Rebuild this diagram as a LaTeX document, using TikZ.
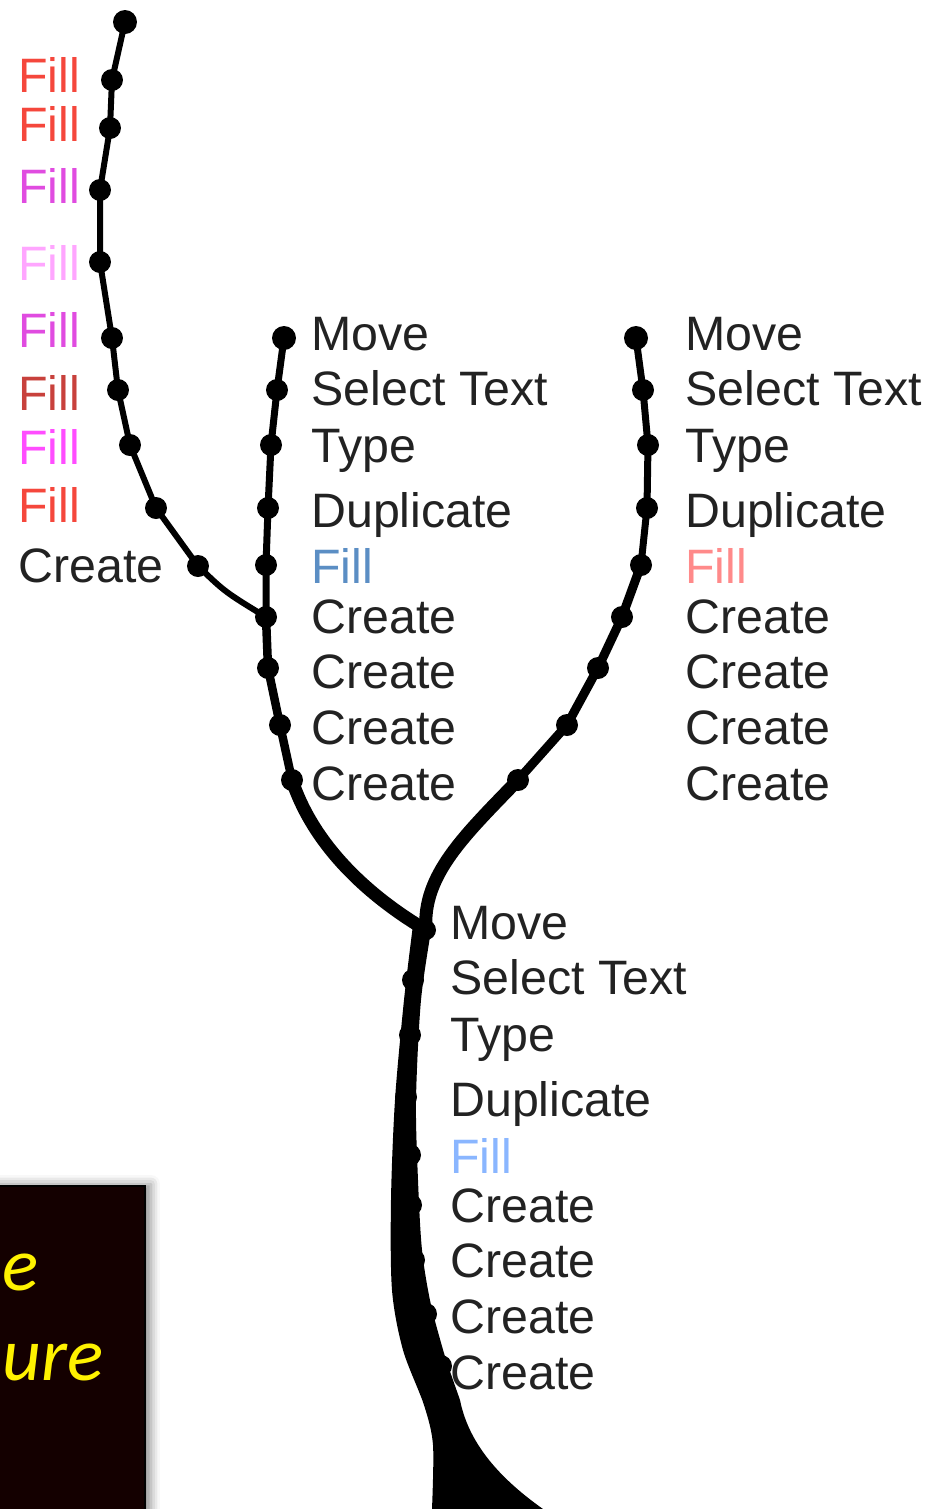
\documentclass[tikz,border=0pt]{standalone}
\usepackage{fontspec}
\setmainfont{Liberation Sans}
\newfontfamily\calloutfont{Carlito}
\usetikzlibrary{shadows.blur}

\definecolor{actgray}{HTML}{222222}
\definecolor{fillred}{HTML}{F5473C}
\definecolor{fillmagenta}{HTML}{E04CE0}
\definecolor{fillpink}{HTML}{FFA6FF}
\definecolor{filldark}{HTML}{C8413C}
\definecolor{fillhot}{HTML}{FF4DFF}
\definecolor{fillsteel}{HTML}{5B8EC4}
\definecolor{fillsalmon}{HTML}{FF8A8A}
\definecolor{fillsky}{HTML}{8AB6FF}
\definecolor{calloutbg}{HTML}{140000}

\tikzset{
	act/.style={anchor=base west, inner sep=0pt, text=actgray, font=\fontsize{27.5}{32}\selectfont},
	twig/.style={line width=#1, line cap=round, line join=round},
	twig/.default=0.12cm,
}

\begin{document}
\begin{tikzpicture}[x=0.02cm, y=-0.02cm]
		\useasboundingbox (0,0) rectangle (930,1509);
		
		% points along the branches, top to bottom
		\foreach \px/\py [count=\i from 0] in {125/22, 112/80, 110/128, 100/190, 100/262, 112/338, 118/390, 130/445, 156/508, 198/566}
			\coordinate (l\i) at (\px,\py);
		\foreach \px/\py [count=\i] in {284/338, 277/390, 271/445, 268/508, 266/565, 266/617, 268/668, 280/725, 292/780}
			\coordinate (m\i) at (\px,\py);
		\foreach \px/\py [count=\i] in {636/338, 643/390, 648/445, 647/508, 641/565, 622/617, 598/668, 567/725, 518/780}
			\coordinate (r\i) at (\px,\py);
		\foreach \px/\py [count=\i] in {426/930, 413/980, 410/1035, 406/1097, 410/1155, 411/1205, 414/1260, 426/1314, 441/1366}
			\coordinate (t\i) at (\px,\py);
		
		% left branch runs into the middle one
		\draw [twig] (l0) -- (l1) -- (l2) -- (l3) -- (l4) -- (l5) -- (l6) -- (l7) -- (l8) -- (l9) .. controls (225,592) .. (m6);
		
		% middle branch
		\draw [twig=0.14cm] (m1) -- (m2) -- (m3) -- (m4) -- (m5) -- (m6);
		\draw [twig=0.17cm] (m6) -- (m7) -- (m8) -- (m9);
		\draw [twig=0.26cm] (m9) .. controls (315,850) and (375,900) .. (t1);
		
		% right branch
		\draw [twig=0.14cm] (r1) -- (r2) -- (r3) -- (r4) -- (r5);
		\draw [twig=0.18cm] (r5) -- (r6) -- (r7) -- (r8) -- (r9);
		\draw [twig=0.26cm] (r9) .. controls (465,835) and (422,875) .. (t1);
		
		% trunk, widening into the foot
		\fill plot [smooth] coordinates {(413,925) (404,1000) (395,1100) (391,1200) (392,1290) (403,1350) (424,1405) (433,1445) (432,1509)}
			-- (543,1509)
			.. controls (495,1475) and (468,1440) .. (460,1400)
			-- plot [smooth] coordinates {(446,1360) (431,1305) (422,1250) (418,1180) (416,1100) (421,1000) (432,925)} -- cycle;
		
		% knots
		\foreach \k in {l1,l2,l3,l4,l5,l6,l7,l8,l9,m2,m3,m4,m5,m6,m7,m8,m9,r2,r3,r4,r5,r6,r7,r8,r9,t2,t3,t4,t5,t6,t7,t8,t9}
			\fill (\k) circle [radius=0.22cm];
		\foreach \k in {l0,m1,r1}
			\fill (\k) circle [radius=0.24cm];
		\fill (t1) circle [radius=0.2cm];
		
		% history labels
		\foreach \txt/\by/\col [count=\i] in {Fill/92/fillred, Fill/141/fillred, Fill/203/fillmagenta, Fill/280/fillpink, Fill/347/fillmagenta, Fill/410/filldark, Fill/464/fillhot, Fill/522/fillred, Create/582/actgray}
			\node [act, text=\col] (left\i) at (18,\by) {\txt};
		\foreach \txt/\by/\col [count=\i] in {Move/350/actgray, Select Text/405/actgray, Type/462/actgray, Duplicate/527/actgray, Fill/583/fillsteel, Create/633/actgray, Create/688/actgray, Create/744/actgray, Create/800/actgray}
			\node [act, text=\col] (mid\i) at (311,\by) {\txt};
		\foreach \txt/\by/\col [count=\i] in {Move/350/actgray, Select Text/405/actgray, Type/462/actgray, Duplicate/527/actgray, Fill/583/fillsalmon, Create/633/actgray, Create/688/actgray, Create/744/actgray, Create/800/actgray}
			\node [act, text=\col] (right\i) at (685,\by) {\txt};
		\foreach \txt/\by/\col [count=\i] in {Move/939/actgray, Select Text/994/actgray, Type/1051/actgray, Duplicate/1116/actgray, Fill/1173/fillsky, Create/1222/actgray, Create/1277/actgray, Create/1333/actgray, Create/1389/actgray}
			\node [act, text=\col] (trunk\i) at (450,\by) {\txt};
		
		% dark callout in the corner
		\fill [calloutbg, draw=black, line width=1.2pt, blur shadow={shadow xshift=0.12cm, shadow yshift=0.04cm, shadow blur radius=0.18cm, shadow opacity=45}] (-10,1186) rectangle (145,1520);
		\node [anchor=base west, inner sep=0pt, text=yellow, font=\calloutfont\itshape\fontsize{43}{50}\selectfont] (note1) at (2,1290) {e};
		\node [anchor=base west, inner sep=0pt, text=yellow, font=\calloutfont\itshape\fontsize{43}{50}\selectfont] (note2) at (2,1380) {ure};
	\end{tikzpicture}
\end{document}
